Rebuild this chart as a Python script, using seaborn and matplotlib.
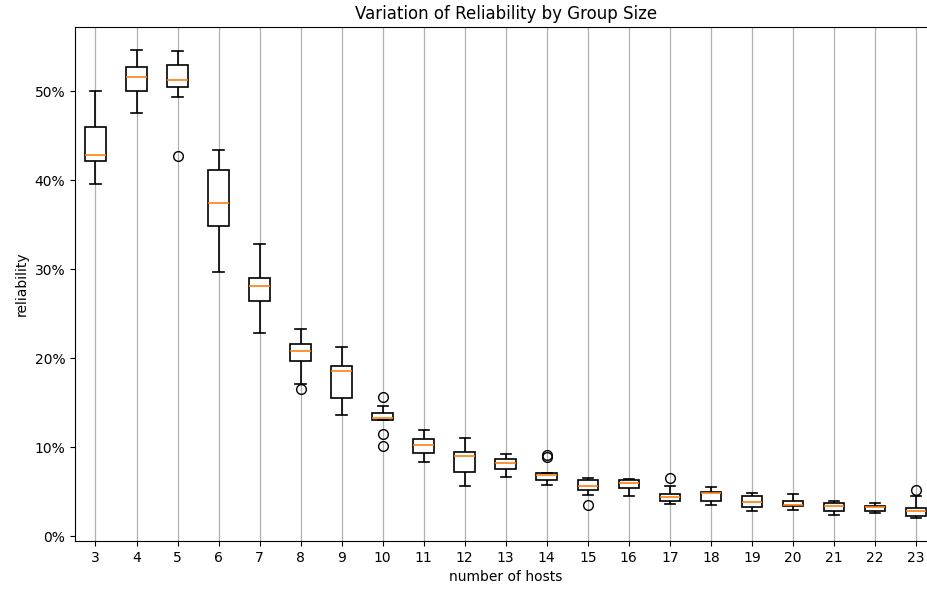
import matplotlib

matplotlib.use("Agg")

import matplotlib.pyplot as plt
import pandas as pd
import seaborn as sns
from matplotlib.ticker import PercentFormatter

HOSTS = [3, 4, 5, 6, 7, 8, 9, 10, 11, 12, 13, 14, 15, 16, 17, 18, 19, 20, 21, 22, 23]

# reliability (%) of the repeated runs for each group size
RELIABILITY = [
    [39.6, 41.0, 42.2, 42.5, 42.8, 44.5, 46.0, 48.0, 50.0],
    [47.6, 49.0, 50.0, 50.9, 51.6, 52.2, 52.7, 53.8, 54.6],
    [42.7, 49.4, 50.5, 50.9, 51.3, 52.2, 53.0, 53.8, 54.5],
    [29.7, 32.0, 34.9, 36.0, 37.4, 39.5, 41.2, 42.5, 43.4],
    [22.8, 24.5, 26.4, 27.2, 28.1, 28.6, 29.0, 31.0, 32.8],
    [16.5, 17.1, 19.7, 20.3, 20.8, 21.2, 21.6, 22.5, 23.3],
    [13.6, 14.5, 15.5, 17.0, 18.6, 18.9, 19.1, 20.2, 21.3],
    [10.1, 11.5, 13.1, 13.2, 13.3, 13.6, 13.9, 14.6, 15.6],
    [8.4, 8.9, 9.4, 9.9, 10.3, 10.6, 10.9, 11.4, 11.9],
    [5.7, 6.4, 7.2, 8.2, 9.0, 9.3, 9.5, 10.3, 11.1],
    [6.7, 7.2, 7.6, 7.9, 8.2, 8.5, 8.7, 9.0, 9.3],
    [5.8, 6.0, 6.3, 6.6, 6.9, 7.0, 7.1, 8.9, 9.1],
    [3.5, 4.6, 5.25, 5.5, 5.7, 6.0, 6.3, 6.5, 6.6],
    [4.5, 5.0, 5.4, 5.7, 6.0, 6.2, 6.3, 6.35, 6.4],
    [3.6, 3.8, 4.0, 4.2, 4.4, 4.6, 4.8, 5.65, 6.6],
    [3.5, 3.8, 4.0, 4.5, 4.9, 4.95, 5.0, 5.3, 5.6],
    [2.9, 3.1, 3.3, 3.6, 3.9, 4.2, 4.5, 4.7, 4.9],
    [2.95, 3.2, 3.4, 3.45, 3.5, 3.8, 4.0, 4.4, 4.8],
    [2.4, 2.6, 2.85, 3.2, 3.4, 3.55, 3.7, 3.85, 4.0],
    [2.6, 2.75, 2.9, 3.1, 3.25, 3.3, 3.4, 3.55, 3.7],
    [2.1, 2.2, 2.3, 2.6, 2.8, 3.0, 3.2, 4.5, 5.25],
]

Y_TICKS = [0, 10, 20, 30, 40, 50]


def main() -> None:
    rows = [(h, v) for h, runs in zip(HOSTS, RELIABILITY) for v in runs]
    df = pd.DataFrame(rows, columns=["hosts", "reliability"])

    fig = plt.figure(figsize=(9.28, 5.94), dpi=100)
    ax = fig.add_axes([0.0808, 0.0892, 0.9283, 0.8653])

    sns.boxplot(
        data=df,
        x="hosts",
        y="reliability",
        order=HOSTS,
        width=0.5,
        color="white",
        linecolor="black",
        linewidth=1.2,
        whis=1.5,
        medianprops={"color": "#ff7f0e", "linewidth": 1.2},
        flierprops={"marker": "o", "markerfacecolor": "none", "markeredgecolor": "black", "markersize": 7},
        ax=ax,
    )

    ax.set_xlim(-0.5, len(HOSTS) - 0.5)
    ax.grid(axis="x", color="#b0b0b0", linewidth=0.9)
    ax.grid(axis="y", visible=False)
    ax.set_axisbelow(True)
    ax.spines["right"].set_visible(False)
    ax.set_yticks(Y_TICKS)
    ax.yaxis.set_major_formatter(PercentFormatter(xmax=100, decimals=0))
    ax.set_xlabel("number of hosts")
    ax.set_ylabel("reliability")
    ax.set_title("Variation of Reliability by Group Size", fontsize=12)

    fig.savefig("out.png", dpi=100)
    plt.close(fig)


if __name__ == "__main__":
    main()
